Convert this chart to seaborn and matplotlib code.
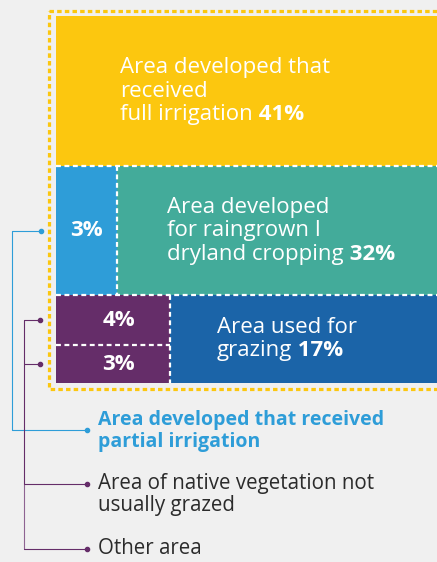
import matplotlib
matplotlib.use('Agg')
import matplotlib.pyplot as plt
import seaborn as sns
from matplotlib.patches import Rectangle

# share of total area, %
full_irrigation = 41
partial_irrigation = 3
dryland_cropping = 32
native_vegetation = 4
other_area = 3
grazing = 17

full_lines = ['Area developed that', 'received', 'full irrigation']
dryland_lines = ['Area developed', 'for raingrown I', 'dryland cropping']
grazing_lines = ['Area used for', 'grazing']
partial_legend = ['Area developed that received', 'partial irrigation']
native_legend = ['Area of native vegetation not', 'usually grazed']
other_legend = ['Other area']

bg = '#f0f0f0'
yellow = '#fcc70f'
teal = '#43ab9a'
light_blue = '#2e9dd8'
purple = '#652d69'
dark_blue = '#1b64a8'
ink = '#2b2b2b'

sns.set_theme(style='white', rc={'figure.facecolor': bg, 'axes.facecolor': 'none'})
plt.rcParams['font.family'] = ['Open Sans', 'DejaVu Sans']

W, H = 437, 562
fig = plt.figure(figsize=(W / 100, H / 100), dpi=100)

# overlay in pixel units for frame, leaders and legend text
ov = fig.add_axes([0, 0, 1, 1], zorder=1)
ov.set_xlim(0, W)
ov.set_ylim(H, 0)
ov.axis('off')

# mosaic area (pixels): x 56 -> 447 (runs off the right edge), y 16 -> 383
mx0, mx1, my0, my1 = 56, 447, 16, 383
ax = fig.add_axes([mx0 / W, 1 - my1 / H, (mx1 - mx0) / W, (my1 - my0) / H], zorder=2)
ax.set_xlim(0, 100)
ax.set_ylim(100, 0)
ax.axis('off')

total = full_irrigation + partial_irrigation + dryland_cropping + native_vegetation + other_area + grazing
row1 = full_irrigation / total * 100
row2 = (partial_irrigation + dryland_cropping) / total * 100
row3 = 100 - row1 - row2
y1, y2 = row1, row1 + row2

MIN_FRAC = 0.155  # narrow blocks get widened so their label fits
wb = max(partial_irrigation / (partial_irrigation + dryland_cropping), MIN_FRAC) * 100
left3 = native_vegetation + other_area
wp = left3 / (left3 + grazing) * 100
ysplit = y2 + native_vegetation / left3 * row3

ax.barh(row1 / 2, 100, height=row1, left=0, color=yellow, lw=0)
ax.barh(y1 + row2 / 2, wb, height=row2, left=0, color=light_blue, lw=0)
ax.barh(y1 + row2 / 2, 100 - wb, height=row2, left=wb, color=teal, lw=0)
ax.barh((y2 + ysplit) / 2, wp, height=ysplit - y2, left=0, color=purple, lw=0)
ax.barh((ysplit + 100) / 2, wp, height=100 - ysplit, left=0, color=purple, lw=0)
ax.barh(y2 + row3 / 2, 100 - wp, height=row3, left=wp, color=dark_blue, lw=0)

dash = dict(color='white', lw=1.6, ls=(0, (2.2, 1.6)))
ax.hlines([y1, y2], 0, 100, **dash)
ax.vlines(wb, y1, y2, **dash)
ax.vlines(wp, y2, 100, **dash)
ax.hlines(ysplit, 0, wp, **dash)

ov.add_patch(Rectangle((49, 11), 500, 378, fill=False, ec=yellow, lw=2.3,
                       ls=(0, (1.4, 1.0))))


def lines_text(a, x, y, lines, tail=None, size=14, color='white', weight='normal',
               lh=16.5, anchor=None, ha='left'):
    n = len(lines)
    if anchor is None:
        anchor = (n - 1) / 2
    t = None
    for i, s in enumerate(lines):
        t = a.annotate(s, xy=(x, y), xytext=(0, -(i - anchor) * lh), textcoords='offset points',
                       va='center', ha=ha, fontsize=size, color=color, fontweight=weight)
    if tail:
        a.annotate(' ' + tail, xy=(1, 0), xycoords=t, va='bottom', ha='left',
                   fontsize=size, color=color, fontweight='bold')


BS = 16
lines_text(ax, 16.4, row1 / 2, full_lines, f'{full_irrigation}%', size=BS, lh=17, weight='medium')
lines_text(ax, wb + 13, y1 + row2 / 2, dryland_lines, f'{dryland_cropping}%', size=BS, lh=17, weight='medium')
lines_text(ax, wp + 12, y2 + row3 / 2, grazing_lines, f'{grazing}%', size=BS, lh=17, weight='medium')
lines_text(ax, wb / 2, y1 + row2 / 2, [f'{partial_irrigation}%'], weight='bold', ha='center', size=16)
lines_text(ax, wp / 2 + 1.5, (y2 + ysplit) / 2, [f'{native_vegetation}%'], weight='bold', ha='center', size=16)
lines_text(ax, wp / 2 + 1.5, (ysplit + 100) / 2, [f'{other_area}%'], weight='bold', ha='center', size=16)


def to_px(yv):
    return my0 + yv / 100 * (my1 - my0)


# leader lines
yb = to_px(y1 + row2 / 2)
yn = to_px((y2 + ysplit) / 2)
yo = to_px((ysplit + 100) / 2)
ov.plot([41, 12, 12, 87], [yb, yb, 430, 430], color=light_blue, lw=0.8)
ov.plot([41, 87], [yb, 430], 'o', color=light_blue, ms=3, ls='none')
ov.plot([40, 24, 24], [yn, yn, 484], color=purple, lw=0.8)
ov.plot([24, 24], [484, 549], color='#8e6392', lw=0.8)
ov.plot([40, 24], [yo, yo], color=purple, lw=0.8)
ov.plot([24, 87], [484, 484], color=purple, lw=0.8)
ov.plot([24, 87], [549, 549], color=purple, lw=0.8)
ov.plot([40, 40, 87, 87], [yn, yo, 484, 549], 'o', color=purple, ms=3, ls='none')

lines_text(ov, 98, 431, partial_legend, size=14, color=light_blue, weight='bold', lh=15.5)
lines_text(ov, 98, 484, native_legend, size=14.8, color=ink, lh=15.5, anchor=0)
lines_text(ov, 98, 549, other_legend, size=14.8, color=ink, lh=15.5, anchor=0)

fig.savefig('out.png', dpi=100, facecolor=bg)
